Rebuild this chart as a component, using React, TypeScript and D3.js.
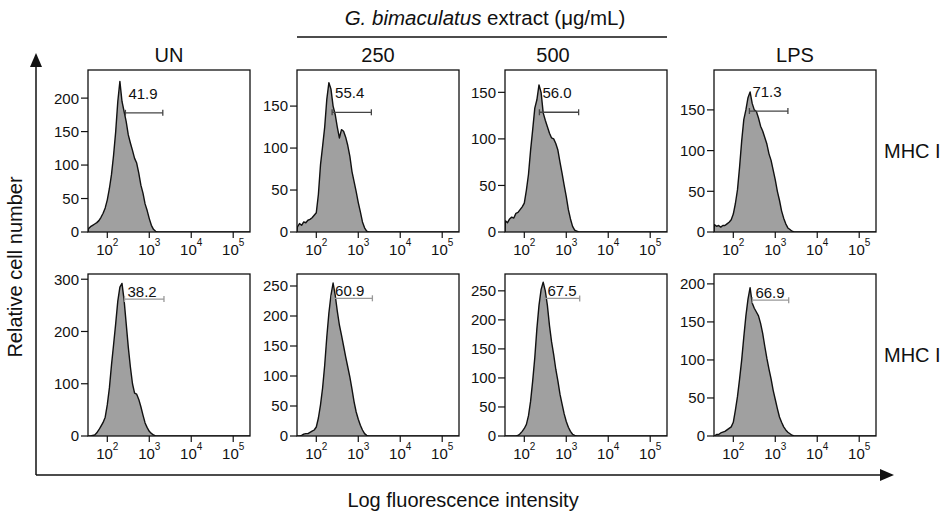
import React from "react";
import * as d3 from "d3";

// log10 fluorescence bin centres
const logBins = [
  1.55, 1.6, 1.65, 1.7, 1.75, 1.8, 1.85, 1.9, 1.95, 2.0,
  2.05, 2.1, 2.15, 2.2, 2.25, 2.3, 2.35, 2.4, 2.45, 2.5,
  2.55, 2.6, 2.65, 2.7, 2.75, 2.8, 2.85, 2.9, 2.95, 3.0,
  3.05, 3.1, 3.15, 3.2, 3.25, 3.3, 3.35, 3.4, 3.45,
];

// MHC I (top row)
const mhc1UN = [5, 8, 10, 12, 14, 17, 22, 28, 36, 48, 65, 86, 115, 150, 195, 225, 195, 180, 165, 145, 133, 122, 110, 103, 88, 70, 58, 42, 32, 20, 10, 4, 1, 0, 0, 0, 0, 0, 0];
const mhc1G250 = [6, 10, 8, 12, 11, 14, 15, 17, 20, 23, 45, 80, 102, 125, 158, 178, 170, 150, 140, 125, 112, 122, 120, 113, 103, 90, 72, 60, 48, 35, 24, 12, 5, 1, 0, 0, 0, 0, 0];
const mhc1G500 = [12, 10, 14, 16, 15, 20, 21, 24, 27, 31, 45, 62, 88, 110, 133, 142, 158, 150, 128, 120, 113, 106, 101, 100, 95, 88, 75, 63, 50, 38, 24, 14, 6, 2, 1, 0, 0, 0, 0];
const mhc1LPS = [9, 7, 8, 6, 8, 8, 10, 12, 15, 22, 35, 52, 80, 112, 138, 150, 165, 172, 158, 150, 148, 140, 130, 124, 116, 108, 96, 88, 76, 64, 50, 39, 26, 17, 10, 5, 3, 1, 0];

// MHC II (bottom row)
const mhc2UN = [0, 0, 1, 2, 6, 12, 19, 26, 36, 60, 92, 136, 175, 215, 258, 285, 292, 260, 215, 170, 132, 100, 82, 80, 70, 56, 40, 25, 16, 9, 5, 2, 0, 0, 0, 0, 0, 0, 0];
const mhc2G250 = [0, 0, 1, 3, 4, 4, 6, 8, 10, 15, 30, 52, 80, 118, 165, 205, 235, 255, 235, 208, 185, 168, 150, 132, 115, 98, 78, 57, 40, 28, 18, 10, 4, 1, 0, 0, 0, 0, 0];
const mhc2G500 = [0, 0, 0, 0, 0, 0, 1, 4, 8, 13, 20, 35, 60, 95, 135, 185, 225, 252, 265, 250, 225, 190, 162, 140, 115, 95, 72, 55, 38, 25, 15, 8, 3, 1, 0, 0, 0, 0, 0];
const mhc2LPS = [0, 2, 2, 4, 5, 6, 8, 10, 12, 18, 34, 52, 75, 100, 130, 158, 180, 195, 175, 168, 163, 158, 148, 135, 118, 102, 88, 75, 60, 48, 36, 25, 18, 12, 8, 5, 3, 1, 0];

const columnTitles = ["UN", "250", "500", "LPS"];
const rowLabels = ["MHC I", "MHC I"];
const xTickExps = [2, 3, 4, 5];
const xDomainLog = [1.54, 5.4];

// per panel: y max, y ticks, gate [from, to, height], gate percentage
const yMaxes = [242, 193, 174, 199, 310, 270, 279, 213];
const yTickSets = [
  [0, 50, 100, 150, 200],
  [0, 50, 100, 150],
  [0, 50, 100, 150],
  [0, 50, 100, 150],
  [0, 100, 200, 300],
  [0, 50, 100, 150, 200, 250],
  [0, 50, 100, 150, 200, 250],
  [0, 50, 100, 150, 200],
];
const gateFrom = [270, 238, 229, 242, 257, 238, 302, 285];
const gateTo = [2100, 2050, 1970, 2000, 2240, 2170, 2090, 2090];
const gateHeight = [178, 142.6, 128.6, 148.6, 262, 229.5, 237, 178.6];
const gateLabels = ["41.9", "55.4", "56.0", "71.3", "38.2", "60.9", "67.5", "66.9"];
const seriesList = [mhc1UN, mhc1G250, mhc1G500, mhc1LPS, mhc2UN, mhc2G250, mhc2G500, mhc2LPS];

const W = 940;
const H = 515;
const colLeft = [88, 297, 505, 714];
const rowTop = [70, 274];
const PW = 162;
const PH = 162;
const FONT = "'Liberation Sans', Arial, Helvetica, sans-serif";

function Panel({ idx }: { idx: number }) {
  const row = Math.floor(idx / 4);
  const col = idx % 4;
  const x0 = colLeft[col];
  const y0 = rowTop[row];
  const x = d3.scaleLog().domain([10 ** xDomainLog[0], 10 ** xDomainLog[1]]).range([0, PW]);
  const y = d3.scaleLinear().domain([0, yMaxes[idx]]).range([PH, 0]);
  const counts = seriesList[idx];
  const pts: [number, number][] = [
    [10 ** xDomainLog[0], 0],
    ...logBins.map((b, i) => [10 ** b, counts[i]] as [number, number]),
    [10 ** xDomainLog[1], 0],
  ];
  const area = d3
    .area<[number, number]>()
    .x((d) => x(d[0]))
    .y0(y(0))
    .y1((d) => y(d[1]));
  const line = d3
    .line<[number, number]>()
    .x((d) => x(d[0]))
    .y((d) => y(d[1]));
  const gx0 = x(gateFrom[idx]);
  const gx1 = x(gateTo[idx]);
  const gy = y(gateHeight[idx]);
  const gateColor = row === 0 ? "#444" : "#999";
  const clipId = `clip${idx}`;
  return (
    <g transform={`translate(${x0},${y0})`}>
      <defs>
        <clipPath id={clipId}>
          <rect x={0} y={0} width={PW} height={PH} />
        </clipPath>
      </defs>
      <rect x={0} y={0} width={PW} height={PH} fill="#fff" />
      <g clipPath={`url(#${clipId})`}>
        <path d={area(pts) || ""} fill="#a0a0a0" />
        <path d={line(pts) || ""} fill="none" stroke="#111" strokeWidth={1.4} strokeLinejoin="round" />
      </g>
      {/* gate */}
      <g stroke={gateColor} strokeWidth={1.3}>
        <line x1={gx0} x2={gx1} y1={gy} y2={gy} />
        <line x1={gx0} x2={gx0} y1={gy - 3} y2={gy + 3} />
        <line x1={gx1} x2={gx1} y1={gy - 3} y2={gy + 3} />
      </g>
      <text
        x={gx0 + 3}
        y={row === 0 ? gy - 14 : gy - 2}
        fontSize={15}
        fill="#111"
      >
        {gateLabels[idx]}
      </text>
      <rect x={0} y={0} width={PW} height={PH} fill="none" stroke="#111" strokeWidth={1.3} />
      {/* y axis */}
      {yTickSets[idx].map((t) => (
        <g key={t}>
          <line x1={-7} x2={0} y1={y(t)} y2={y(t)} stroke="#111" strokeWidth={1.2} />
          <text x={-9} y={y(t)} dy="0.36em" textAnchor="end" fontSize={15} fill="#111">
            {t}
          </text>
        </g>
      ))}
      {/* x axis */}
      {xTickExps.map((e) => (
        <g key={e}>
          <line x1={x(10 ** e)} x2={x(10 ** e)} y1={PH} y2={PH + 6} stroke="#111" strokeWidth={1.2} />
          <text x={x(10 ** e)} y={PH + 23} textAnchor="middle" fontSize={15} fill="#111">
            10
            <tspan dy={-9} fontSize={10}>
              {e}
            </tspan>
          </text>
        </g>
      ))}
    </g>
  );
}

export default function App() {
  return (
    <svg
      width={W}
      height={H}
      viewBox={`0 0 ${W} ${H}`}
      style={{ position: "absolute", left: 0, top: 0, background: "#fff" }}
      fontFamily={FONT}
    >
      <rect x={0} y={0} width={W} height={H} fill="#fff" />
      {/* header */}
      <text x={485} y={25} textAnchor="middle" fontSize={20.5} fill="#111">
        <tspan fontStyle="italic">G. bimaculatus</tspan> extract (μg/mL)
      </text>
      <line x1={297} x2={667} y1={37} y2={37} stroke="#111" strokeWidth={1.3} />
      {columnTitles.map((t, i) => (
        <text
          key={t}
          x={i === 2 ? 553 : colLeft[i] + PW / 2}
          y={62}
          textAnchor="middle"
          fontSize={20}
          fill="#111"
        >
          {t}
        </text>
      ))}
      {rowLabels.map((t, i) => (
        <text key={i} x={884} y={rowTop[i] + 88} fontSize={20} fill="#111">
          {t}
        </text>
      ))}
      {d3.range(8).map((i) => (
        <Panel key={i} idx={i} />
      ))}
      {/* big axes */}
      <line x1={36} x2={36} y1={64} y2={475} stroke="#111" strokeWidth={1.5} />
      <polygon points="36,53 30,67 42,67" fill="#111" />
      <line x1={36} x2={882} y1={475} y2={475} stroke="#111" strokeWidth={1.5} />
      <polygon points="894,475 880,469 880,481" fill="#111" />
      <text
        transform="translate(22,267) rotate(-90)"
        textAnchor="middle"
        fontSize={20}
        fill="#111"
      >
        Relative cell number
      </text>
      <text x={463} y={507} textAnchor="middle" fontSize={20} fill="#111">
        Log fluorescence intensity
      </text>
    </svg>
  );
}
